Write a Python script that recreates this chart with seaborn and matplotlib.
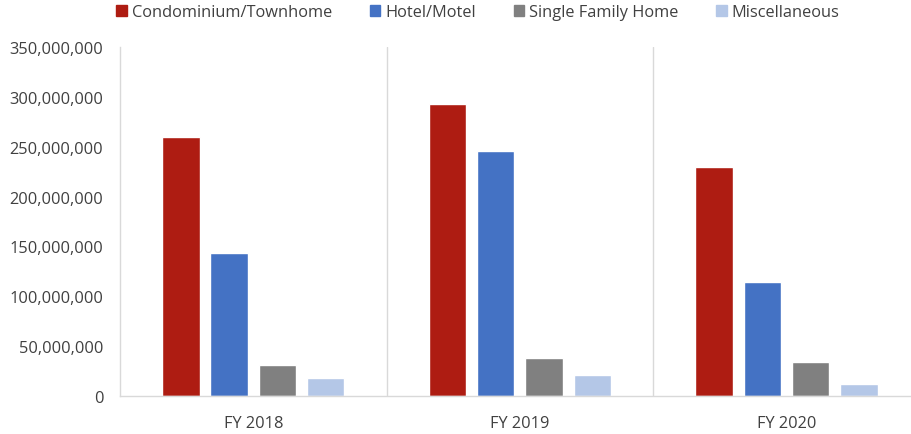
import pandas as pd
import numpy as np
import matplotlib.pyplot as plt
import seaborn as sns
from matplotlib.ticker import FuncFormatter

years = ["FY 2018", "FY 2019", "FY 2020"]
types = ["Condominium/Townhome", "Hotel/Motel", "Single Family Home", "Miscellaneous"]
condo = [259.5e6, 293.0e6, 229.5e6]
hotel = [143.5e6, 245.8e6, 114.0e6]
single_family = [31.2e6, 38.2e6, 34.2e6]
misc = [18.5e6, 21.2e6, 12.0e6]
colors = ["#AE1C12", "#4472C4", "#808080", "#B4C7E7"]

df = pd.DataFrame({
    "year": years * 4,
    "type": np.repeat(types, 3),
    "value": condo + hotel + single_family + misc,
})

sns.set_style("white")
plt.rcParams["font.family"] = ["Open Sans", "DejaVu Sans"]

fig = plt.figure(figsize=(9.11, 4.35), dpi=100)
ax = fig.add_axes([0.1317, 0.0874, 0.878, 0.8023])

sns.barplot(data=df, x="year", y="value", hue="type", order=years, hue_order=types,
            palette=colors, width=0.724, gap=0.225, saturation=1, errorbar=None,
            ax=ax, legend=False)

ax.set_xlim(-0.5, 2.5)
ax.set_ylim(0, 350e6)
ax.set_yticks(np.arange(0, 350e6 + 1, 50e6))
ax.yaxis.set_major_formatter(FuncFormatter(lambda v, p: f"{int(v):,}"))
ax.set_xlabel("")
ax.set_ylabel("")
# light separators between the fiscal years
for b in [0.5, 1.5]:
    ax.axvline(b, color="#D9D9D9", lw=1, zorder=0)

for s in ["top", "right"]:
    ax.spines[s].set_visible(False)
for s in ["left", "bottom"]:
    ax.spines[s].set_color("#D9D9D9")
    ax.spines[s].set_linewidth(1)

ax.tick_params(axis="both", length=0, labelsize=11.8, labelcolor="#404040")
ax.tick_params(axis="y", pad=12)
ax.tick_params(axis="x", pad=14)

handles = [plt.Rectangle((0, 0), 1, 1, color=c) for c in colors]
fig.legend(handles, types, loc="center", bbox_to_anchor=(478 / 911, 1 - 13 / 435),
           ncol=4, frameon=False, fontsize=11.8, handlelength=0.65, handleheight=0.65,
           handletextpad=0.3, columnspacing=2.3, labelcolor="#404040")

fig.savefig("out.png", dpi=100)
